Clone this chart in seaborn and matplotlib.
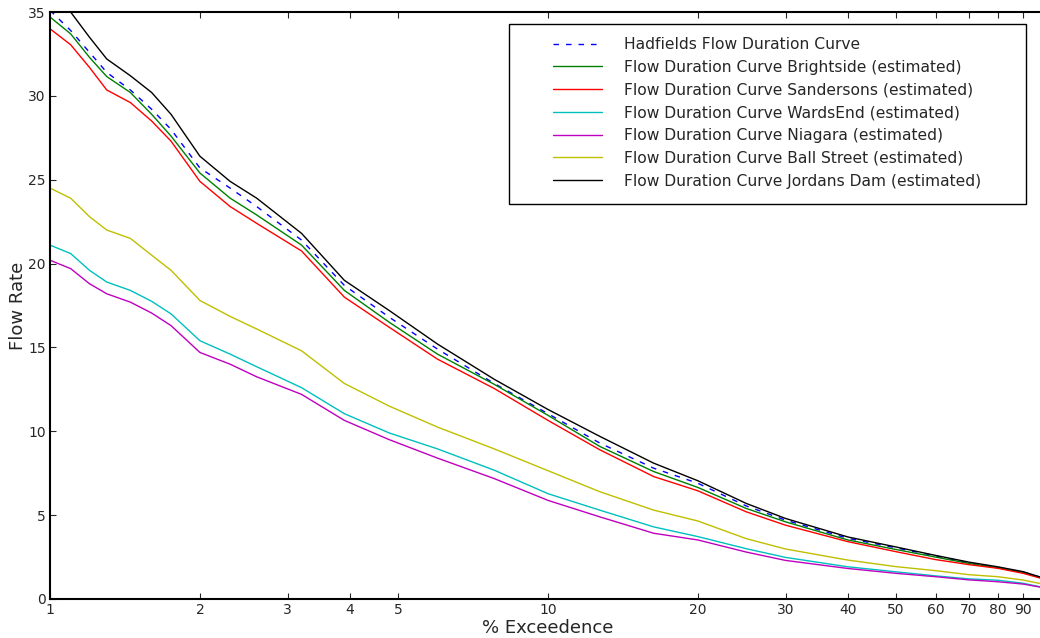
import pandas as pd
import seaborn as sns
import matplotlib
matplotlib.use("Agg")
import matplotlib.pyplot as plt
from matplotlib.patches import Rectangle
from matplotlib.ticker import FixedLocator, FixedFormatter, NullLocator

# % exceedence sample points
exceedence = [1.0, 1.1, 1.2, 1.3, 1.45, 1.6, 1.75, 2.0, 2.3, 2.6, 3.2, 3.9, 4.8,
              6.0, 7.8, 10, 12.7, 16.3, 20, 25, 30, 40, 50, 60, 70, 80, 90, 100]

hadfields = [35.1, 33.9, 32.6, 31.4, 30.35, 29.2, 28.0, 25.7, 24.5, 23.4, 21.4, 18.7, 16.8,
             14.9, 12.85, 11.05, 9.3, 7.8, 6.9, 5.55, 4.7, 3.62, 3.05, 2.57, 2.15, 1.88, 1.6, 1.2]
brightside = [34.7, 33.7, 32.3, 31.15, 30.2, 28.9, 27.6, 25.4, 23.9, 22.9, 21.1, 18.4, 16.5,
              14.6, 12.8, 10.95, 9.1, 7.6, 6.65, 5.4, 4.6, 3.52, 2.95, 2.5, 2.12, 1.86, 1.58, 1.18]
sandersons = [34.0, 33.05, 31.7, 30.35, 29.6, 28.5, 27.3, 24.9, 23.4, 22.4, 20.75, 18.0, 16.2,
              14.3, 12.55, 10.65, 8.9, 7.3, 6.45, 5.2, 4.4, 3.42, 2.82, 2.35, 2.05, 1.83, 1.53, 1.15]
wardsend = [21.1, 20.6, 19.6, 18.9, 18.4, 17.75, 17.0, 15.4, 14.6, 13.85, 12.6, 11.05, 9.9,
            8.95, 7.68, 6.28, 5.3, 4.3, 3.72, 3.0, 2.48, 1.92, 1.62, 1.38, 1.2, 1.12, 0.94, 0.65]
niagara = [20.2, 19.7, 18.8, 18.2, 17.7, 17.05, 16.3, 14.7, 14.0, 13.25, 12.2, 10.65, 9.5,
           8.4, 7.18, 5.88, 4.9, 3.92, 3.52, 2.8, 2.3, 1.82, 1.53, 1.33, 1.14, 1.03, 0.89, 0.65]
ball_street = [24.5, 23.9, 22.8, 22.0, 21.5, 20.5, 19.6, 17.8, 16.85, 16.1, 14.8, 12.85, 11.5,
               10.25, 8.95, 7.65, 6.4, 5.3, 4.65, 3.6, 2.98, 2.32, 1.93, 1.69, 1.45, 1.33, 1.13, 0.85]
jordans_dam = [36.6, 35.0, 33.5, 32.2, 31.2, 30.2, 28.9, 26.4, 24.9, 23.9, 21.8, 19.0, 17.2,
               15.2, 13.1, 11.3, 9.7, 8.1, 7.05, 5.7, 4.8, 3.7, 3.1, 2.6, 2.2, 1.92, 1.63, 1.2]

curve_names = ["Hadfields Flow Duration Curve",
               "Flow Duration Curve Brightside (estimated)",
               "Flow Duration Curve Sandersons (estimated)",
               "Flow Duration Curve WardsEnd (estimated)",
               "Flow Duration Curve Niagara (estimated)",
               "Flow Duration Curve Ball Street (estimated)",
               "Flow Duration Curve Jordans Dam (estimated)"]
curve_values = [hadfields, brightside, sandersons, wardsend, niagara, ball_street, jordans_dam]
curve_colors = ["#0000ff", "#008000", "#ff0000", "#00bfbf", "#bf00bf", "#bfbf00", "#000000"]

x_ticks = [1, 2, 3, 4, 5, 10, 20, 30, 40, 50, 60, 70, 80, 90]

frames = []
for name, vals in zip(curve_names, curve_values):
    frames.append(pd.DataFrame({"exceedence": exceedence, "flow": vals, "curve": name}))
df = pd.concat(frames, ignore_index=True)

sns.set_style("ticks", {"xtick.direction": "in", "ytick.direction": "in",
                        "xtick.top": True, "ytick.right": True,
                        "axes.edgecolor": "black"})
plt.rcParams["font.family"] = ["DejaVu Sans"]

fig = plt.figure(figsize=(10.4, 6.38), dpi=100)
ax = fig.add_axes([50 / 1040, 39 / 638, 996 / 1040, 587 / 638])

palette = dict(zip(curve_names, curve_colors))
dashes = {name: (4, 5) if i == 0 else "" for i, name in enumerate(curve_names)}
sns.lineplot(data=df, x="exceedence", y="flow", hue="curve", style="curve",
             palette=palette, dashes=dashes, hue_order=curve_names,
             style_order=curve_names, estimator=None, sort=False,
             linewidth=1.0, ax=ax)

ax.set_xscale("log")
ax.set_xlim(1, 100)
ax.set_ylim(0, 35)
ax.xaxis.set_major_locator(FixedLocator(x_ticks))
ax.xaxis.set_major_formatter(FixedFormatter([str(t) for t in x_ticks]))
ax.xaxis.set_minor_locator(NullLocator())
ax.set_yticks(range(0, 36, 5))
ax.tick_params(axis="both", which="major", length=4, width=0.8, labelsize=10, pad=3)
for s in ax.spines.values():
    s.set_linewidth(1.5)

ax.set_xlabel("% Exceedence", fontsize=13, labelpad=1)
ax.set_ylabel("Flow Rate", fontsize=13, labelpad=1)

# legend entries without frame, box drawn separately (wide padding like the original)
handles, labels = ax.get_legend_handles_labels()
leg = ax.legend(handles, labels, loc="upper left",
                bbox_to_anchor=(553 / 1040, 1 - 37 / 638),
                bbox_transform=fig.transFigure, borderaxespad=0, borderpad=0,
                frameon=False, fontsize=11.2,
                handlelength=3.15, handletextpad=1.4, labelspacing=0.5)
leg.set_zorder(6)
box = Rectangle((509 / 1040, 1 - 204 / 638), 517 / 1040, 180 / 638,
                transform=fig.transFigure, facecolor="white",
                edgecolor="black", linewidth=1.0, zorder=5, clip_on=False)
ax.add_patch(box)

fig.savefig("out.png", dpi=100)
